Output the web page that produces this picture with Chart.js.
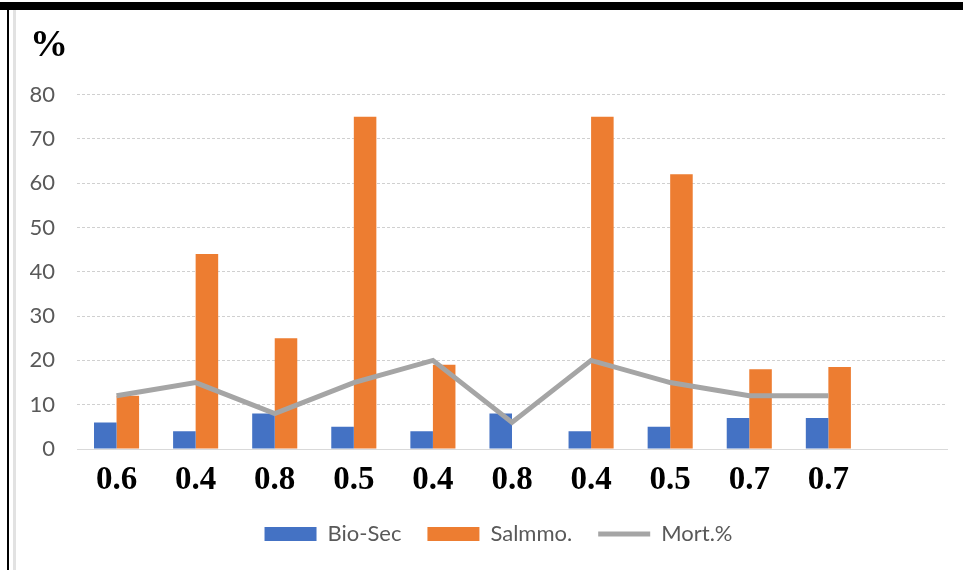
<!DOCTYPE html>
<html>
<head>
<meta charset="utf-8">
<script src="https://cdn.jsdelivr.net/npm/chart.js@4.4.1/dist/chart.umd.min.js"></script>
<style>
  html, body { margin: 0; padding: 0; background: #fff; }
  #wrap { position: relative; width: 963px; height: 570px; overflow: hidden; }
  #topBand { position: absolute; left: 0; top: 2px; width: 963px; height: 8px; background: #000; }
  #leftLine { position: absolute; left: 7px; top: 10px; width: 2px; height: 560px; background: #000; }
  #grayLine { position: absolute; left: 13px; top: 10px; width: 3px; height: 560px; background: #e2e2e2; }
  #myChart { position: absolute; left: 0; top: 0; }
</style>
</head>
<body>
<div id="wrap">
  <div id="topBand"></div>
  <div id="leftLine"></div>
  <div id="grayLine"></div>
  <canvas id="myChart" width="963" height="570"></canvas>
</div>
<script>
const categories = ["0.6", "0.4", "0.8", "0.5", "0.4", "0.8", "0.4", "0.5", "0.7", "0.7", ""];
const bioSec = [6, 4, 8, 5, 4, 8, 4, 5, 7, 7, null];
const salmmo = [12, 44, 25, 75, 19, null, 75, 62, 18, 18.5, null];
const mortality = [12, 15, 8, 15, 20, 6, 20, 15, 12, 12, null];
const yTicks = [0, 10, 20, 30, 40, 50, 60, 70, 80];

const ctx = document.getElementById("myChart");

// nudge the legend a little to the right, like the original
const legendShift = {
  id: "legendShift",
  afterLayout(chart) {
    chart.legend.left += 20;
  },
};

var chart = new Chart(ctx, {
  type: "bar",
  data: {
    labels: categories,
    datasets: [
      {
        label: "Bio-Sec",
        data: bioSec,
        backgroundColor: "#4472C4",
        borderWidth: 0,
        pointStyle: "rect",
        order: 1,
      },
      {
        label: "Salmmo.",
        data: salmmo,
        backgroundColor: "#ED7D31",
        borderWidth: 0,
        pointStyle: "rect",
        order: 1,
      },
      {
        type: "line",
        label: "Mort.%",
        data: mortality,
        borderColor: "#A5A5A5",
        backgroundColor: "#A5A5A5",
        borderWidth: 5,
        pointRadius: 0,
        pointStyle: "line",
        tension: 0,
        order: 0,
      },
    ],
  },
  plugins: [legendShift],
  options: {
    responsive: false,
    animation: false,
    layout: {
      padding: { left: 30, right: 16, top: 10, bottom: 15 },
    },
    datasets: {
      bar: { categoryPercentage: 0.57, barPercentage: 1 },
    },
    plugins: {
      tooltip: { enabled: false },
      title: {
        display: true,
        text: "%",
        align: "start",
        color: "#000",
        font: { family: "Liberation Serif", size: 38, weight: "bold" },
        padding: { top: 13, bottom: 26 },
      },
      legend: {
        position: "bottom",
        labels: {
          usePointStyle: true,
          pointStyleWidth: 52,
          boxHeight: 14,
          padding: 26,
          color: "#595959",
          font: { family: "Lato", size: 22 },
          sort: (a, b) => a.datasetIndex - b.datasetIndex,
        },
      },
    },
    scales: {
      x: {
        grid: { display: false },
        border: { display: true, color: "#D9D9D9", width: 1 },
        ticks: {
          color: "#000",
          padding: 4,
          maxRotation: 0,
          autoSkip: false,
          font: { family: "Liberation Serif", size: 33, weight: "bold" },
        },
        afterFit: (axis) => {
          axis.height = 48;
        },
      },
      y: {
        min: 0,
        max: 80,
        afterBuildTicks: (axis) => {
          axis.ticks = yTicks.map((v) => ({ value: v }));
        },
        afterFit: (axis) => {
          axis.width = 47;
        },
        grid: { color: "#D0D0D0", lineWidth: 1, drawTicks: false },
        border: { display: false, dash: [3, 2] },
        ticks: {
          color: "#595959",
          padding: 22,
          font: { family: "Lato", size: 22 },
        },
      },
    },
  },
});
</script>
</body>
</html>
